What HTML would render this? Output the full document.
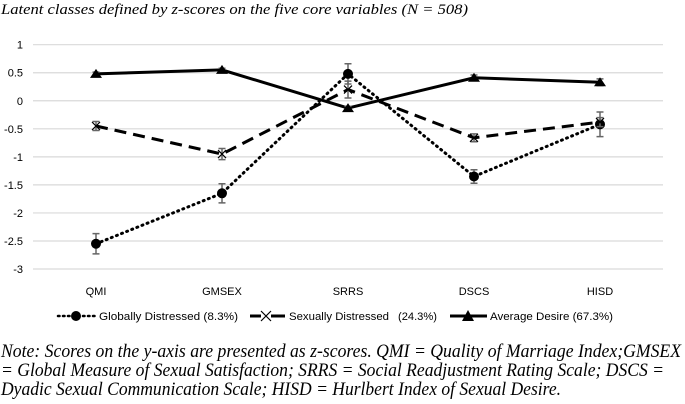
<!DOCTYPE html>
<html><head><meta charset="utf-8"><style>
html,body{margin:0;padding:0;background:#fff;}
svg{display:block;}
</style></head><body>
<svg id="chart" width="685" height="404" xmlns="http://www.w3.org/2000/svg">
<text x="1" y="14" font-family="Liberation Serif, serif" font-style="italic" font-size="15" textLength="467" lengthAdjust="spacingAndGlyphs">Latent classes defined by z-scores on the five core variables (N = 508)</text>
<g id="grid"></g><g id="yticks"></g><g id="xticks"></g><g id="series"></g>
<g font-family="Liberation Sans, sans-serif" font-size="11">
 <g>
  <line x1="58" y1="316" x2="96" y2="316" stroke="#000" stroke-width="2.5" stroke-dasharray="1.5 3.5" stroke-linecap="round"/>
  <circle cx="76" cy="316" r="5"/>
  <text x="99" y="320" textLength="139" lengthAdjust="spacingAndGlyphs">Globally Distressed (8.3%)</text></g>
 <g>
  <line x1="250" y1="316" x2="285" y2="316" stroke="#000" stroke-width="3"/>
  <rect x="261" y="310" width="10" height="12" fill="#fff"/>
  <path d="M261 311 L271 321 M271 311 L261 321" stroke="#000" stroke-width="1.2"/>
  <text x="289" y="320" textLength="100" lengthAdjust="spacingAndGlyphs">Sexually Distressed</text>
  <text x="398" y="320" textLength="39" lengthAdjust="spacingAndGlyphs">(24.3%)</text></g>
 <g>
  <line x1="450" y1="316" x2="487" y2="316" stroke="#000" stroke-width="3"/>
  <path d="M468 310 L474 321 L462 321 Z"/>
  <text x="490" y="320" textLength="123" lengthAdjust="spacingAndGlyphs">Average Desire (67.3%)</text></g>
</g>
<g font-family="Liberation Serif, serif" font-style="italic" font-size="19">
<text x="1" y="357" textLength="680" lengthAdjust="spacingAndGlyphs">Note: Scores on the y-axis are presented as z-scores. QMI = Quality of Marriage Index;GMSEX</text>
<text x="1" y="376" textLength="663" lengthAdjust="spacingAndGlyphs">= Global Measure of Sexual Satisfaction;  SRRS = Social Readjustment Rating Scale; DSCS =</text>
<text x="1" y="395" textLength="560" lengthAdjust="spacingAndGlyphs">Dyadic Sexual Communication Scale; HISD = Hurlbert Index of Sexual Desire.</text>
</g>
</svg>
<script>
const categories=["QMI","GMSEX","SRRS","DSCS","HISD"];
const yTicks=[1,0.5,0,-0.5,-1,-1.5,-2,-2.5,-3];
const globalVals=[-2.55,-1.65,0.48,-1.35,-0.42];
const globalErr=[0.18,0.17,0.18,0.12,0.22];
const sexualVals=[-0.45,-0.95,0.2,-0.66,-0.38];
const sexualErr=[0.08,0.1,0.15,0.07,0.08];
const averageVals=[0.48,0.55,-0.13,0.41,0.33];
const averageErr=[0.03,0.03,0.03,0.05,0.06];
const NS="http://www.w3.org/2000/svg";
const X0=33,X1=663,Y1v=44.7,Ym3=269;
function yS(v){return Y1v+(1-v)*(Ym3-Y1v)/4;}
function xS(i){return X0+(i+0.5)*(X1-X0)/categories.length;}
function mk(tag,attrs,parent){const e=document.createElementNS(NS,tag);for(const k in attrs)e.setAttribute(k,attrs[k]);parent.appendChild(e);return e;}
const grid=document.getElementById('grid'),yt=document.getElementById('yticks'),xt=document.getElementById('xticks'),ser=document.getElementById('series');
yTicks.forEach(v=>{
 const l=mk('line',{x1:X0,x2:X1,y1:yS(v),y2:yS(v),stroke:'#d9d9d9','stroke-width':1.2},grid);
 
 
 const t=mk('text',{x:23,y:yS(v)+4,'text-anchor':'end','font-family':'Liberation Sans, sans-serif','font-size':11},yt);
 t.textContent=String(v);
 
 
});
categories.forEach((c,i)=>{
 const t=mk('text',{x:xS(i),y:295,'text-anchor':'middle','font-family':'Liberation Sans, sans-serif','font-size':11},xt);
 t.textContent=c;
 
 
});
function drawSeries(name,vals,errs,dash,marker,w,cap){
 const g=mk('g',{},ser);
 
 
 const pts=vals.map((v,i)=>xS(i)+','+yS(v)).join(' ');
 const pl=mk('polyline',{points:pts,fill:'none',stroke:'#000','stroke-width':w,'stroke-dasharray':dash,'stroke-linecap':cap},g);
 
 
 vals.forEach((v,i)=>{
  const x=xS(i),ya=yS(v+errs[i]),yb=yS(v-errs[i]);
  const eb=mk('path',{d:`M${x} ${ya} L${x} ${yb} M${x-3.5} ${ya} L${x+3.5} ${ya} M${x-3.5} ${yb} L${x+3.5} ${yb}`,stroke:'#666','stroke-width':1.5,fill:'none'},g);
  
  
  let m;const y=yS(v);
  if(marker==='circle')m=mk('circle',{cx:x,cy:y,r:5},g);
  else if(marker==='x')m=mk('path',{d:`M${x-4} ${y-4} L${x+4} ${y+4} M${x+4} ${y-4} L${x-4} ${y+4}`,stroke:'#000','stroke-width':1.2},g);
  else m=mk('path',{d:`M${x} ${y-5} L${x+6} ${y+4} L${x-6} ${y+4} Z`},g);
  
  
 });
}
drawSeries('series-globally-distressed',globalVals,globalErr,'1 4.5','circle',3,'round');
drawSeries('series-sexually-distressed',sexualVals,sexualErr,'12 7','x',3,'butt');
drawSeries('series-average-desire',averageVals,averageErr,'none','triangle',3,'butt');
</script>
</body></html>
